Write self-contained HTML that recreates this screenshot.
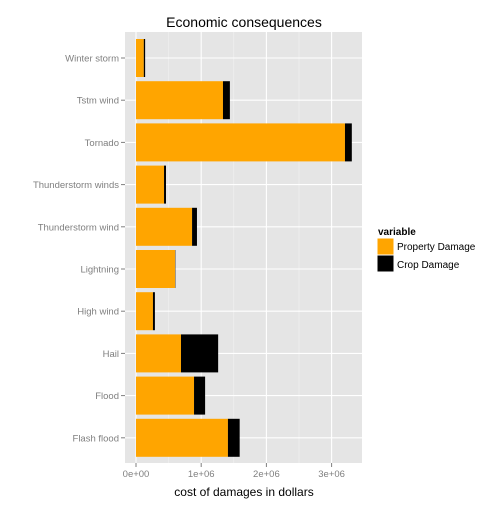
<!DOCTYPE html>
<html><head><meta charset="utf-8"><style>
body{margin:0;background:#fff;font-family:"Liberation Sans",Arial,sans-serif}
</style></head><body>
<svg id="chart" width="504" height="504" xmlns="http://www.w3.org/2000/svg" font-family="Liberation Sans, Arial, sans-serif">
<rect x="0" y="0" width="504" height="504" fill="#fff"/>
<text x="244" y="27" text-anchor="middle" font-size="14">Economic consequences</text>
<rect x="125" y="32" width="237" height="431" fill="#e5e5e5"/>
<g id="grid"></g>
<g id="bars"></g>
<g id="axes"></g>
<text x="244" y="496" text-anchor="middle" font-size="12">cost of damages in dollars</text>
<g>
<text x="378" y="235" font-size="10" font-weight="bold">variable</text>
<rect x="377" y="238" width="17" height="17" fill="#ffa500" stroke="#fff" stroke-width="1"/>
<text x="397" y="250" font-size="10">Property Damage</text>
<rect x="377" y="255" width="17" height="17" fill="#000" stroke="#fff" stroke-width="1"/>
<text x="397" y="268" font-size="10">Crop Damage</text>
</g>
</svg>
<script>
const categories = ["Winter storm","Tstm wind","Tornado","Thunderstorm winds","Thunderstorm wind","Lightning","High wind","Hail","Flood","Flash flood"];
const propertyDamage = [120000,1334000,3205000,430000,860000,600000,260000,690000,890000,1410000];
const cropDamage = [20000,106000,105000,30000,75000,5000,30000,570000,170000,180000];
const xTicks = [0,1000000,2000000,3000000];
const xTickLabels = ["0e+00","1e+06","2e+06","3e+06"];
const NS="http://www.w3.org/2000/svg";
const pX0=136, pxPer=65.2/1e6, pLeft=125, pRight=362, pTop=32, pBottom=463;
const yFirst=58, yStep=42.2, bandH=38;
function xs(v){return pX0+v*pxPer;}
function ys(i){return yFirst+i*yStep;}
function mk(tag,attrs,parent){const e=document.createElementNS(NS,tag);for(const k in attrs)e.setAttribute(k,attrs[k]);parent.appendChild(e);return e;}
const gridG=document.getElementById('grid'), barsG=document.getElementById('bars'), axesG=document.getElementById('axes');
for(let i=0;i<xTicks.length;i++){
  const xm=xs(xTicks[i]+500000);
  if(xm<pRight){
    const l=mk('line',{x1:xm,x2:xm,y1:pTop,y2:pBottom,stroke:'#f2f2f2','stroke-width':0.6},gridG);
    
    
  }
}
xTicks.forEach((t,i)=>{
  const x=xs(t);
  const l=mk('line',{x1:x,x2:x,y1:pTop,y2:pBottom,stroke:'#fff','stroke-width':1.1},gridG);
  
  
  const tk=mk('line',{x1:x,x2:x,y1:pBottom,y2:pBottom+4,stroke:'#7f7f7f'},axesG);
  
  
  const tx=mk('text',{x:x,y:pBottom+14,'text-anchor':'middle','font-size':9.5,fill:'#7f7f7f'},axesG);
  tx.textContent=xTickLabels[i];
  
  
});
categories.forEach((c,i)=>{
  const y=ys(i);
  const l=mk('line',{x1:pLeft,x2:pRight,y1:y,y2:y,stroke:'#fff','stroke-width':1.1},gridG);
  
  
  const p=propertyDamage[i], cr=cropDamage[i];
  const slug=c.toLowerCase().replace(/ /g,'-');
  const b1=mk('rect',{x:xs(0),y:y-bandH/2,width:xs(p)-xs(0),height:bandH,fill:'#ffa500'},barsG);
  
  
  const b2=mk('rect',{x:xs(p),y:y-bandH/2,width:xs(p+cr)-xs(p),height:bandH,fill:'#000'},barsG);
  
  
  const tk=mk('line',{x1:pLeft-4,x2:pLeft,y1:y,y2:y,stroke:'#7f7f7f'},axesG);
  
  
  const tx=mk('text',{x:pLeft-6,y:y+3.5,'text-anchor':'end','font-size':9.5,fill:'#7f7f7f'},axesG);
  tx.textContent=c;
  
  
});
</script>
</body></html>
